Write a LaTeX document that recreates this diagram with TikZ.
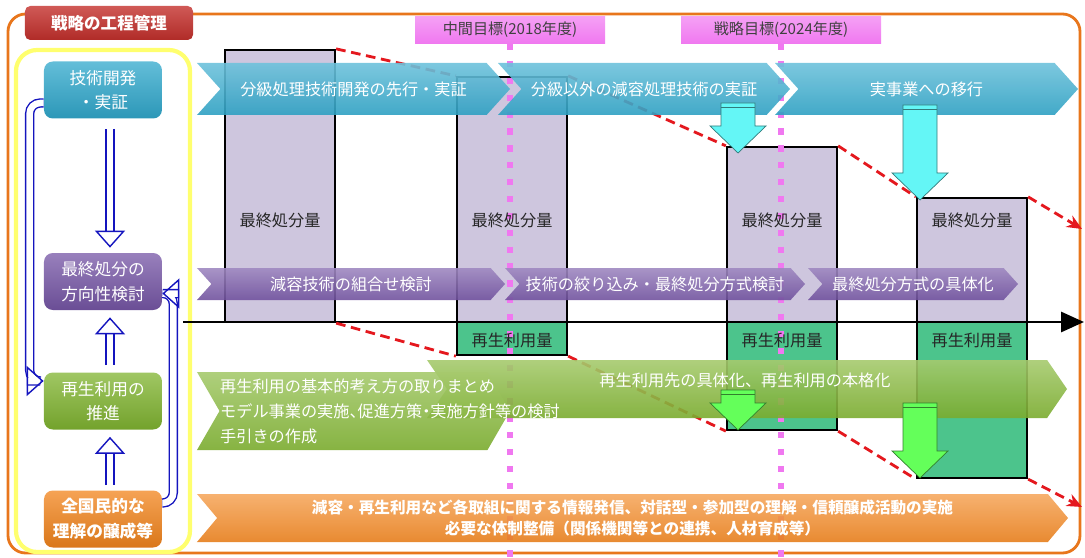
\documentclass[tikz,border=0pt]{standalone}
\usepackage{fontspec}
\setmainfont{Noto Sans CJK JP}
\usetikzlibrary{arrows.meta,positioning,shapes.symbols,fit}
\definecolor{sky}{RGB}{48,168,204}
\definecolor{lilac}{RGB}{118,86,166}
\definecolor{moss}{RGB}{128,180,48}
\definecolor{tangerine}{RGB}{242,132,28}
\definecolor{crimson}{RGB}{196,48,44}
\definecolor{mist}{RGB}{206,198,222}
\definecolor{jade}{RGB}{76,196,140}
\definecolor{orchid}{RGB}{240,120,240}
\definecolor{navyline}{RGB}{20,20,190}
\definecolor{aqua}{RGB}{100,246,246}
\definecolor{lime}{RGB}{100,255,90}
\definecolor{yolk}{RGB}{255,255,110}
\definecolor{rust}{RGB}{232,118,28}
\definecolor{trend}{RGB}{228,24,30}
\tikzset{
  stage/.style={rounded corners=5pt,text=white,top color=#1!75!white,bottom color=#1!90!black,
    minimum width=23.6mm,minimum height=11.4mm,align=center,font=\fontsize{9.5}{14}\selectfont},
  titlebox/.style={rounded corners=3pt,text=white,top color=crimson!80!white,bottom color=crimson!90!black,
    minimum width=33.6mm,minimum height=6.8mm,font=\fontsize{9.4}{11}\selectfont\bfseries},
  goal/.style={top color=orchid!70!white,bottom color=orchid,text=black!75,
    minimum height=5.2mm,font=\fontsize{8.6}{10}\selectfont},
  goalline/.style={orchid,line width=3.6pt,dash pattern=on 3.6pt off 6pt},
  band/.style={signal,signal to=east,signal from=west,signal pointer angle=96,
    top color=#1!70!white,bottom color=#1!95!black,fill opacity=0.9,text opacity=1,
    text=white,inner sep=0pt,font=\fontsize{9.2}{12}\selectfont},
  bandtext/.style={text=white,font=\fontsize{9.2}{14.2}\selectfont,align=left},
  finalbar/.style={draw=black,fill=mist,line width=1.3pt,inner sep=0pt},
  reusebar/.style={draw=black,fill=jade,line width=1.3pt,inner sep=0pt},
  qty/.style={font=\fontsize{9.2}{11}\selectfont,text=black!85},
  axis/.style={line width=1.7pt,-{Triangle[length=4.6mm,width=4mm]}},
  trendline/.style={trend,line width=1.6pt,dash pattern=on 5.5pt off 3.2pt},
  hollow/.style={draw=navyline,double=white,double distance=1.3mm,line width=0.8pt,
    -{Triangle[open,length=3.4mm,width=6mm]}},
  % block arrow pointing down, tip at the origin
  pics/drop/.style 2 args={code={
    \filldraw[draw=#1!50!black,fill=#1,line width=0.4pt] (0,0) -- (-28,-27) -- (-17,-27) -- (-17,-#2)
      -- (17,-#2) -- (17,-27) -- (28,-27) -- cycle;
    \draw[#1!50!black,line width=0.4pt] (-17,{-#2+4}) -- (17,{-#2+4});
  }},
}
\begin{document}
\begin{tikzpicture}[x=0.2mm,y=-0.2mm]
  \useasboundingbox (0,0) rectangle (1085,558);
  \draw[rust,line width=1.6pt,rounded corners=10pt] (8,14) rectangle (1080,553);
  \draw[yolk,line width=2.4pt,rounded corners=12pt] (16,50) rectangle (190,552);
  \node[titlebox] (title) at (109,23) {戦略の工程管理};

  % quantities
  \foreach \xa/\ya [count=\i] in {225/50,457/77,727/147,917/198}
    \node[finalbar,fit={(\xa,\ya) (\xa+110,322)}] (f\i) {};
  \foreach \xa/\yb [count=\i from 2] in {457/355,727/430,917/478}
    \node[reusebar,fit={(\xa,322) (\xa+110,\yb)}] (r\i) {};

  \node[goal,minimum width=38mm] (m1) at (510,30) {中間目標(2018年度)};
  \node[goal,minimum width=40mm] (m2) at (781,30) {戦略目標(2024年度)};
  \coordinate (m1end) at (510,558);
  \coordinate (m2end) at (781,558);
  \draw[goalline] (m1.south) -- (m1end);
  \draw[goalline] (m2.south) -- (m2end);

  \foreach \i in {1,...,4} \node[qty] at (f\i |- 0,220) {最終処分量};
  \foreach \i in {2,...,4} \node[qty] at (r\i |- 0,340) {再生利用量};

  \coordinate (ax0) at (183,322);
  \coordinate (ax1) at (1084,322);
  \draw[axis] (ax0) -- (ax1);

  \coordinate (topend) at (1082,229);
  \coordinate (lowend) at (1082,507);
  \draw[trendline] (f1.north east) -- (f2.north west) (f2.north east) -- (f3.north west)
    (f3.north east) -- (f4.north west);
  \draw[trendline,-{Stealth[length=3mm,width=2.6mm]}] (f4.north east) -- (topend);
  \draw[trendline] (f1.south east) -- (r2.south west) (r2.south east) -- (r3.south west)
    (r3.south east) -- (r4.south west);
  \draw[trendline,-{Stealth[length=3mm,width=2.6mm]}] (r4.south east) -- (lowend);

  % process bands
  \foreach \t/\xc/\w [count=\i] in {分級処理技術開発の先行・実証/353.5/62.6,
      分級以外の減容処理技術の実証/644/58.4,実事業への移行/926.5/60.6}
    \node[band=sky,minimum width=\w mm,minimum height=10.4mm] (t\i) at (\xc,89) {\t};
  \foreach \t/\xc/\w [count=\i] in {減容技術の組合せ検討/351/61.6,
      技術の絞り込み・最終処分方式検討/655/60,最終処分方式の具体化/913/42}
    \node[band=lilac,minimum width=\w mm,minimum height=6.4mm] (p\i) at (\xc,284) {\t};
  \node[band=moss,signal pointer angle=111,minimum width=128mm,minimum height=11.6mm] (g2) at (747,389) {};
  \node[bandtext] (g2t) at (745,380) {再生利用先の具体化、再生利用の本格化};
  \node[band=moss,signal pointer angle=120,minimum width=62.6mm,minimum height=15.6mm] (g1) at (353.5,411) {};
  \node[bandtext,anchor=west,font=\fontsize{9.2}{14.2}\selectfont\addfontfeature{RawFeature=+halt}] (g1t) at (214,411)
    {再生利用の基本的考え方の取りまとめ\\モデル事業の実施、促進方策・実施方針等の検討\\手引きの作成};
  \node[band=tangerine,signal pointer angle=100,minimum width=174.2mm,minimum height=9.6mm,align=center,
    font=\fontsize{8.9}{11.6}\selectfont\bfseries] (o1) at (632.5,518)
    {減容・再生利用など各取組に関する情報発信、対話型・参加型の理解・信頼醸成活動の実施\\
     必要な体制整備（関係機関等との連携、人材育成等）};

  \pic at (738,153) {drop={aqua}{50}};
  \pic at (920,200) {drop={aqua}{95}};
  \pic at (738,430) {drop={lime}{40}};
  \pic at (920,478) {drop={lime}{75}};

  % strategy cycle
  \node[stage=sky] (tech) at (103,90) {技術開発\\・実証};
  \node[stage=lilac] (dir) at (103,281.5) {最終処分の\\方向性検討};
  \node[stage=moss] (recy) at (103,401) {再生利用の\\推進};
  \node[stage=tangerine,font=\fontsize{9.5}{14}\selectfont\bfseries] (pub) at (103,519) {全国民的な\\理解の醸成等};
  \draw[hollow,shorten <=2mm,shorten >=1mm] ([xshift=1.4mm]tech.south) -- ([xshift=1.4mm]dir.north);
  \draw[hollow,shorten <=1.4mm,shorten >=1.4mm] ([xshift=1.4mm]recy.north) -- ([xshift=1.4mm]dir.south);
  \draw[hollow,shorten <=1mm,shorten >=1.4mm] ([xshift=1.4mm]pub.north) -- ([xshift=1.4mm]recy.south);
  \draw[hollow,rounded corners=6pt] ([yshift=-2.6mm]tech.west) -- ++(-14,0) |- ([yshift=4mm]recy.west);
  \draw[hollow,rounded corners=6pt] ([yshift=3.2mm]pub.east) -- ++(11,0) |- ([yshift=-2.4mm]dir.east);
\end{tikzpicture}
\end{document}
